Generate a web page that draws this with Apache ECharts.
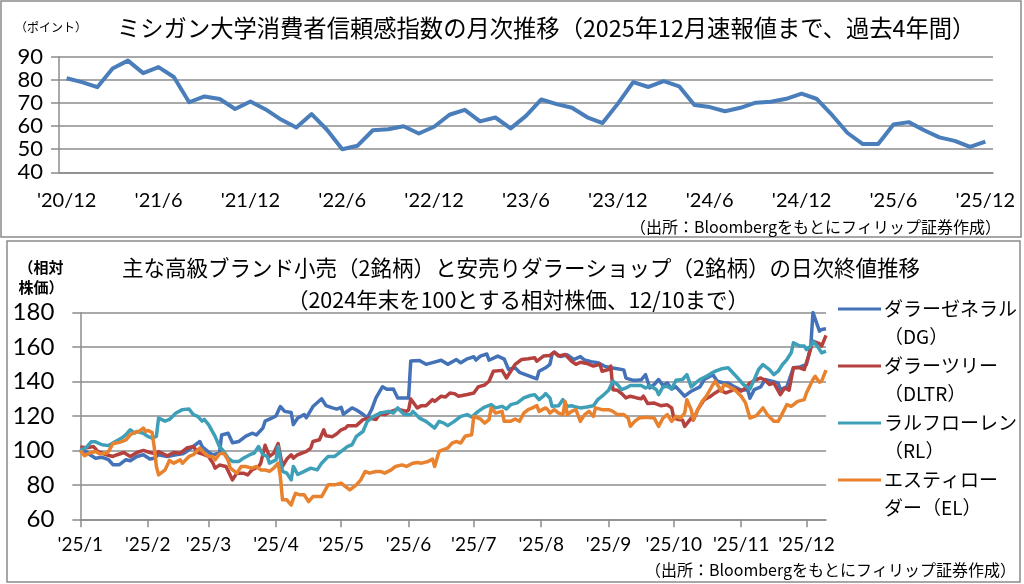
<!DOCTYPE html>
<html><head><meta charset="utf-8">
<script src="https://cdn.jsdelivr.net/npm/echarts@6/dist/echarts.min.js"></script>
<style>html,body{margin:0;padding:0;background:#fff}#c{width:1024px;height:584px}</style>
</head><body><div id="c"></div>
<script>
// ---- Top chart: Michigan consumer sentiment (monthly) ----
const months = ["'20/12",
 "'21/1","'21/2","'21/3","'21/4","'21/5","'21/6","'21/7","'21/8","'21/9","'21/10","'21/11","'21/12",
 "'22/1","'22/2","'22/3","'22/4","'22/5","'22/6","'22/7","'22/8","'22/9","'22/10","'22/11","'22/12",
 "'23/1","'23/2","'23/3","'23/4","'23/5","'23/6","'23/7","'23/8","'23/9","'23/10","'23/11","'23/12",
 "'24/1","'24/2","'24/3","'24/4","'24/5","'24/6","'24/7","'24/8","'24/9","'24/10","'24/11","'24/12",
 "'25/1","'25/2","'25/3","'25/4","'25/5","'25/6","'25/7","'25/8","'25/9","'25/10","'25/11","'25/12"];
const sentiment = [80.7,
 79.0,76.8,84.9,88.3,82.9,85.5,81.2,70.3,72.8,71.7,67.4,70.6,
 67.2,62.8,59.4,65.2,58.4,50.0,51.5,58.2,58.6,59.9,56.8,59.7,
 64.9,67.0,62.0,63.7,59.0,64.4,71.5,69.5,67.9,63.8,61.3,69.7,
 79.0,76.9,79.4,77.2,69.1,68.2,66.4,67.9,70.1,70.5,71.8,74.0,
 71.7,64.7,57.0,52.2,52.2,60.7,61.7,58.2,55.1,53.6,51.0,53.3];

// ---- Bottom chart: relative prices (end-2024 = 100); x = days since 2025-01-01 ----
const monthStartDays = [0,31,59,90,120,151,181,212,243,273,304,334];
const monthLabels = ["'25/1","'25/2","'25/3","'25/4","'25/5","'25/6","'25/7","'25/8","'25/9","'25/10","'25/11","'25/12"];
const lastDay = 343; // 12/10

const seriesNames = ['ダラーゼネラル（DG）','ダラーツリー（DLTR）','ラルフローレン（RL）','エスティローダー（EL）'];
const legendLines = [['ダラーゼネラル','（DG）'],['ダラーツリー','（DLTR）'],['ラルフローレン','（RL）'],['エスティロー','ダー（EL）']];

const dg = [[0,101],[3,99],[5,97],[7,95.5],[10,96],[13,94.6],[15,91.7],[18,91.7],[21,94.6],[23,94],[26,96.5],[29,97.5],[32,95],[34,95.5],[36,97.5],[40,96.5],[44,97.5],[47,98],[49,99.4],[52,102.3],[55,105.2],[56,102.3],[59,99],[61,97.5],[64,98.4],[65,109],[68,110],[70,104.5],[73,105.2],[76,108.2],[79,110],[81,109],[84,113],[85,117],
 [88,118.8],[90,120],[92,125.5],[94,122.7],[97,122],[98,115],[100,118.8],[103,120.8],[104,119],[107,125.5],[111,130],[113,126],[116,124.7],[118,124],[120,125],[121,121],[125,124.7],[127,123.5],[130,121],[132,119],[134,123.7],[136,130.5],[139,137],[141,135.5],[144,135.7],[146,130.5],[151,130.5],[152,152],[156,152.2],[159,150],[162,151],[166,152.4],[169,150],
 [173,152.8],[175,150.9],[178,153.2],[181,154.4],[182,152.5],[184,154.8],[187,156],[188,152.4],[192,154.8],[195,153],[197,147],[200,148],[202,145.4],[206,143.5],[210,141.6],[211,146],[214,148],[216,150],[217,155.7],[218,157],[221,154.5],[224,155.5],[227,152.8],[230,154.5],[232,152.5],[235,151.5],[238,151],[241,149],[244,148],[247,147.4],[250,146.8],[251,142],[254,140.8],
 [256,140.8],[258,141],[260,144],[262,136.3],[264,138.3],[266,141.2],[268,137.7],[270,139.2],[272,135.7],[274,136.9],[278,131.5],[281,134.4],[285,136.9],[287,141.2],[288,142],[291,144],[293,140.2],[296,139.2],[298,139.2],[301,136.9],[304,135],[307,135.3],[308,130.3],[310,135.3],[313,136.9],[315,141.2],[318,140.2],[321,139.2],[322,135.3],[325,136.9],[328,148],[331,148.5],[334,149.9],[336,160.6],[337,180],[340,169.3],[341,170.3],[343,170.7]];

const dltr = [[0,102],[3,101.5],[6,102.3],[8,99.4],[12,97.5],[15,96.5],[17,97.5],[20,98.8],[23,96.5],[26,98.8],[29,100],[32,98.8],[35,98],[36,99.4],[40,96.9],[43,98.8],[46,98.4],[49,101.4],[52,102.3],[54,98.8],[56,98],[59,96.5],[61,92.6],[62,89.7],[64,91.5],[67,90.7],[70,82.9],[72,86.8],[75,86.8],[77,85.8],[79,88.7],[82,90.7],[83,92.6],[85,103],[87,96.5],[89,98.4],[91,104],[93,90.7],[95,95],[97,97.5],[98,95.5],[100,97.5],[104,99.4],[106,101.4],[107,105.2],[110,106.2],[112,112],[113,108.5],[116,108],[118,109.7],[120,112],[122,113],[123,114.4],[127,114.4],[130,117.9],[133,118.8],[136,118],[138,121.7],[140,120.8],[143,122.7],[146,124],[150,122.7],[151,123.5],[152,129.9],[155,124.7],[157,126],[159,126],[162,129.5],[163,128.5],[166,131.5],[168,131],[170,133.4],
 [172,133],[174,131.5],[178,132.5],[181,133.4],[183,136.9],[186,138],[188,140.2],[190,146],[194,146.5],[196,142.1],[198,146],[200,150],[203,152.8],[206,153.2],[209,153.8],[210,151.8],[213,154.8],[216,155.2],[218,157.1],[220,154.8],[223,155.7],[226,151.8],[228,150],[230,151.2],[233,150.5],[236,149],[239,150],[240,146],[243,147],[244,149],[245,135.3],[247,135],[249,133],[251,130.5],[253,131.5],[256,130.5],
 [258,130],[259,131.5],[261,127.2],[264,127.5],[267,126],[270,126.5],[272,124.7],[273,118.8],[275,118],[277,117.6],[278,114],[281,118.8],[282,117.6],[284,123.7],[287,129.5],[290,131.5],[292,133.4],[294,135],[297,133.4],[299,134.4],[301,135.7],[304,134.4],[306,136.3],[308,139.2],[311,141.2],[313,142.1],[315,140.8],[317,138.3],[319,139.2],[322,132.4],[324,136.3],[326,135],[328,148],[331,148],[333,147],[335,154.8],[337,163.5],[340,162.1],[341,160.6],[343,166.8]];

const rl = [[0,100],[3,102],[5,105],[7,105],[10,103.3],[13,102.8],[16,105],[19,107.2],[21,109.1],[23,112],[25,110],[26,111],[29,110],[31,108.2],[33,107.2],[35,108.2],[36,118.8],[39,117],[41,118],[44,121.7],[47,123.7],[50,124.1],[52,120.8],[54,119.8],[56,117],[57,118],[59,115],[62,108.2],[64,102.3],[66,99.4],[68,95.5],[70,93.6],[73,93.6],[75,95.5],[78,97.5],[80,98.5],[82,102.3],[84,97.5],[86,96.5],[87,92.6],[90,94.5],[91,102.3],[93,87.8],[95,86.8],[97,82.9],[98,90.7],[100,86],[103,87.8],[106,89.7],[109,88.7],[111,92.6],[114,96.5],[117,96.5],[120,99.4],[123,102.3],[125,103.3],[127,108.2],[130,111],[132,116.9],[135,119.8],[138,121.7],[142,122.7],[144,121.7],[146,124.7],[149,120.8],[152,120.8],[153,122.7],[156,118.8],[159,116.9],[163,113],[165,116.9],[167,116],[169,114.4],
 [172,116.9],[175,119.8],[178,120.8],[180,119.4],[183,122.7],[186,125.2],[189,126.6],[191,124.7],[194,125.6],[196,124.1],[198,126.6],[201,127.6],[204,130.5],[207,131.9],[209,132.4],[211,129.5],[213,131.5],[214,133],[216,130.5],[217,125.6],[220,126],[222,129.5],[224,125.6],[226,126],[228,125.2],[230,124.7],[233,125.2],[236,126],[238,129.5],[240,131.5],[243,135],[245,140.2],[247,138.3],[249,135.3],[251,136.3],[253,137.7],[256,137.7],
 [258,137.7],[260,136.3],[262,137.7],[265,135.3],[266,132.4],[268,136.9],[270,137.3],[272,135.7],[274,140.8],[277,141.2],[279,144],[281,136.9],[283,139.2],[285,141.2],[288,143.1],[290,144.6],[292,146],[295,147.4],[298,148],[301,144],[303,141.2],[305,138.3],[308,135.7],[310,141.2],[312,147],[314,149.9],[317,147],[319,144],[321,146],[323,149.9],[325,152.8],[327,156.7],[328,162.5],[331,160.6],[333,160.6],[334,158.6],[336,160.6],[337,163.5],[339,160.6],[341,156.7],[343,157.7]];

const el = [[0,100],[2,96.9],[4,98.4],[7,99.4],[9,98],[12,98.4],[13,99.4],[15,103.9],[18,104.7],[21,106.2],[23,109.1],[25,110.5],[27,111],[29,113],[30,111],[31,111.6],[33,110.5],[34,102],[35,90.7],[36,85.8],[39,88.7],[41,94.2],[43,92.6],[46,94.5],[47,92.6],[50,96.5],[52,97.5],[55,101.4],[57,98.4],[59,96.5],[61,96.5],[62,94.5],[64,98],[66,98.4],[68,94.2],[69,89.7],[72,86.8],[74,90.7],[76,90.7],[79,89.7],[81,90.7],[83,88.7],[85,88.7],[87,87.8],[89,89.7],[91,92.6],[92,85],[93,71.3],[95,71.3],[97,68.3],[98,72],[99,75.1],[101,74.2],[103,74.2],[105,70.3],[107,73.2],[109,73.2],[111,73.2],[114,80],[117,80],[120,81],[122,79],[124,77.1],[127,80],[129,82.9],[131,87.8],[133,86.8],[136,87.8],[138,87.8],[140,86.8],[143,88.7],[145,90.7],[148,91.6],[150,90.7],[153,92.6],[155,93],[157,92.6],[160,93.6],[162,95],[163,90.7],[165,99.4],[167,100.4],[169,101.4],[171,104.3],
 [173,105.2],[175,104.3],[177,108.2],[180,109.1],[181,119.8],[184,118.3],[186,115.9],[188,117.9],[189,124.7],[191,121.7],[194,122.7],[195,116.9],[198,116.9],[200,118.3],[202,116.9],[204,121.7],[206,123.7],[208,124.7],[210,126],[211,122.7],[214,124.7],[215,123.7],[216,121.7],[218,123.7],[220,121.7],[222,120.8],[223,128.5],[224,120.8],[226,122.7],[228,123.7],[230,116.9],[232,120.8],[234,122.7],[236,119.8],[237,124.7],[240,123.7],[243,123.7],[245,122.7],[247,120.8],[250,120.8],[252,118.8],[253,114],[255,116.9],
 [257,118.8],[260,119.3],[264,118.8],[266,114],[268,118.8],[270,120.8],[272,116.9],[274,119.8],[276,118.8],[278,121.7],[279,129.5],[281,123.7],[282,117.9],[284,123.7],[286,128.5],[288,131.5],[291,138.3],[292,140.2],[295,134.4],[296,138.3],[298,137.3],[301,135.3],[304,131.5],[306,127.6],[308,118.8],[311,120.2],[314,124.7],[316,120.8],[319,116.9],[321,116.9],[323,121.7],[325,126.6],[327,125.6],[330,128.5],[333,129.5],[334,133.4],[337,141.2],[338,143.1],[340,139.6],[341,140.2],[343,146.6]];

const stockData = [dg, dltr, rl, el];
const colors = ['#4472B8','#B5413F','#3E9FB8','#E8822E'];
const topLineColor = '#4A7EBB';

const JP = '"Noto Sans CJK JP", sans-serif';
const NUM = 'Lato, "Noto Sans", sans-serif';
const GRID_C = '#8c8c8c';

const chart = echarts.init(document.getElementById('c'), null, {renderer: 'canvas'});

const legendIcon = 'path://M0,0L0.01,0M0,12.5H43V15.5H0ZM0,56L0.01,56';

function txt(text, x, y, size, align, extra) {
  return Object.assign({type: 'text', silent: true, x: x, y: y,
    style: Object.assign({text: text, font: size + 'px ' + JP, fill: '#000', align: align, verticalAlign: 'middle'}, extra || {})});
}

const option = {
  animation: false,
  backgroundColor: '#fff',
  grid: [
    {left: 59, right: 31, top: 56.7, bottom: 411.7},
    {left: 80.3, right: 198, top: 312.7, bottom: 64.7}
  ],
  xAxis: [
    {
      gridIndex: 0, type: 'category', data: months, boundaryGap: true,
      axisLine: {lineStyle: {color: GRID_C, width: 1.5}},
      axisTick: {interval: 5, length: 8, lineStyle: {color: GRID_C, width: 1.5}},
      axisLabel: {interval: 5, color: '#000', fontFamily: NUM, fontSize: 20, margin: 18}
    },
    {
      gridIndex: 1, type: 'value', min: 0, max: lastDay,
      splitLine: {show: false},
      axisLine: {lineStyle: {color: GRID_C, width: 1.5}},
      axisTick: {show: true, customValues: monthStartDays, length: 8, lineStyle: {color: GRID_C, width: 1.5}},
      axisLabel: {customValues: monthStartDays, color: '#000', fontFamily: NUM, fontSize: 19, margin: 16,
        formatter: v => monthLabels[monthStartDays.indexOf(v)] || ''}
    }
  ],
  yAxis: [
    {
      gridIndex: 0, type: 'value', min: 40, max: 90, interval: 10,
      axisLine: {show: true, lineStyle: {color: GRID_C, width: 1.5}},
      axisTick: {show: true, length: 8, lineStyle: {color: GRID_C, width: 1.5}},
      splitLine: {lineStyle: {color: GRID_C, width: 1.5}},
      axisLabel: {color: '#000', fontFamily: NUM, fontSize: 22, margin: 16, showMinLabel: true, showMaxLabel: true, hideOverlap: false}
    },
    {
      gridIndex: 1, type: 'value', min: 60, max: 180, interval: 20,
      axisLine: {show: true, lineStyle: {color: GRID_C, width: 1.5}},
      axisTick: {show: true, length: 8, lineStyle: {color: GRID_C, width: 1.5}},
      splitLine: {lineStyle: {color: GRID_C, width: 1.5}},
      axisLabel: {color: '#000', fontFamily: NUM, fontSize: 24, margin: 26, showMinLabel: true, showMaxLabel: true}
    }
  ],
  legend: {
    orient: 'vertical', left: 838, top: 295, padding: 0, itemGap: 1,
    itemWidth: 43, itemHeight: 56, selectedMode: false,
    data: seriesNames.map((n, i) => ({name: n, icon: legendIcon, itemStyle: {color: colors[i], borderWidth: 0}})),
    formatter: name => legendLines[seriesNames.indexOf(name)].join('\n'),
    textStyle: {fontFamily: JP, fontSize: 19, lineHeight: 28, color: '#000', padding: [0, 0, 0, -2]}
  },
  series: [
    {
      type: 'line', xAxisIndex: 0, yAxisIndex: 0, data: sentiment, symbol: 'none',
      lineStyle: {color: topLineColor, width: 4, join: 'round'}, itemStyle: {color: topLineColor}
    }
  ].concat(stockData.map((d, i) => ({
    type: 'line', name: seriesNames[i], xAxisIndex: 1, yAxisIndex: 1, data: d, symbol: 'none',
    lineStyle: {color: colors[i], width: 3.5, join: 'round'}, itemStyle: {color: colors[i]}
  }))),
  graphic: [
    {type: 'rect', silent: true, shape: {x: 1, y: 1, width: 1020, height: 236}, style: {fill: 'none', stroke: '#8a8a8a', lineWidth: 1.5}},
    {type: 'rect', silent: true, shape: {x: 7, y: 241, width: 1013, height: 341}, style: {fill: 'none', stroke: '#8a8a8a', lineWidth: 1.5}},
    txt('（ポイント）', 15, 27, 12, 'left'),
    txt('ミシガン大学消費者信頼感指数の月次推移（2025年12月速報値まで、過去4年間）', 117, 28, 23.3, 'left'),
    txt('（出所：Bloombergをもとにフィリップ証券作成）', 1001, 227, 16, 'right'),
    txt('（相対\n株価）', 41, 277, 15, 'center', {font: 'bold 15px ' + JP, lineHeight: 20}),
    txt('主な高級ブランド小売（2銘柄）と安売りダラーショップ（2銘柄）の日次終値推移', 521, 268, 21.5, 'center'),
    txt('（2024年末を100とする相対株価、12/10まで）', 518, 300, 21.5, 'center'),
    txt('（出所：Bloombergをもとにフィリップ証券作成）', 1016, 570, 16, 'right')
  ]
};
chart.setOption(option);
</script>
</body></html>
